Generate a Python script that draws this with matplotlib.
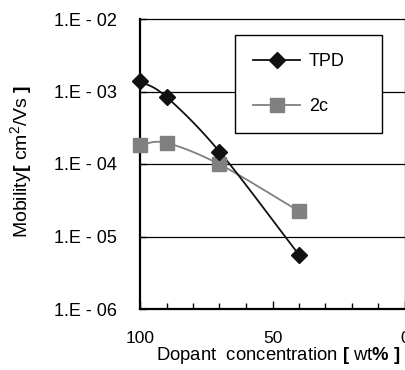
import numpy as np
import matplotlib
matplotlib.use("Agg")
import matplotlib.pyplot as plt
from matplotlib.lines import Line2D
from matplotlib.ticker import FixedLocator, MultipleLocator

plt.rcParams['font.family'] = ['Liberation Sans', 'DejaVu Sans']
plt.rcParams['mathtext.fontset'] = 'custom'
plt.rcParams['mathtext.rm'] = 'Liberation Sans'
plt.rcParams['mathtext.it'] = 'Liberation Sans'
plt.rcParams['mathtext.bf'] = 'Liberation Sans:bold'

# data
tpd_x = [100, 90, 70, 40]
tpd_y = [1.4e-3, 8.4e-4, 1.48e-4, 5.6e-6]
c2_x = [100, 90, 70, 40]
c2_y = [1.85e-4, 1.95e-4, 9.9e-5, 2.24e-5]
ytick_vals = [1e-6, 1e-5, 1e-4, 1e-3, 1e-2]
ytick_labels = ["1.E - 06", "1.E - 05", "1.E - 04", "1.E - 03", "1.E - 02"]
xtick_vals = [100, 50, 0]
xtick_labels = ["100", "50", "0"]


def smooth(xs, ys, n=30):
    # Catmull-Rom curve through the points in (x, log10 y) space
    x = np.asarray(xs, float)
    y = np.log10(np.asarray(ys, float))
    px = np.concatenate([[2 * x[0] - x[1]], x, [2 * x[-1] - x[-2]]])
    py = np.concatenate([[2 * y[0] - y[1]], y, [2 * y[-1] - y[-2]]])
    ox, oy = [], []
    t = np.linspace(0, 1, n)
    for i in range(1, len(px) - 2):
        for P, out in ((px, ox), (py, oy)):
            p0, p1, p2, p3 = P[i - 1], P[i], P[i + 1], P[i + 2]
            out.extend(0.5 * ((2 * p1) + (-p0 + p2) * t + (2 * p0 - 5 * p1 + 4 * p2 - p3) * t ** 2
                              + (-p0 + 3 * p1 - 3 * p2 + p3) * t ** 3))
    return np.array(ox), 10 ** np.array(oy)


W, H = 406, 370
fig = plt.figure(figsize=(W / 100, H / 100), dpi=100)
ax = fig.add_axes([140 / W, 1 - 309 / H, 265 / W, 290 / H])
ax.set_yscale('log')
ax.set_ylim(1e-6, 1e-2)
ax.set_xlim(100, 0)

for yv in [1e-5, 1e-4, 1e-3]:
    ax.axhline(yv, color='black', lw=0.9, zorder=1)

black = '#111111'
gray = '#808080'
sx, sy = smooth(tpd_x, tpd_y)
ax.plot(sx, sy, color=black, lw=1.3, zorder=3, clip_on=False)
ax.plot(tpd_x, tpd_y, ls='none', marker='D', ms=8, color=black, zorder=4, clip_on=False)
sx, sy = smooth(c2_x, c2_y)
ax.plot(sx, sy, color=gray, lw=1.3, zorder=2, clip_on=False)
ax.plot(c2_x, c2_y, ls='none', marker='s', ms=10, color=gray, zorder=3, clip_on=False)

ax.set_yticks(ytick_vals)
ax.set_yticklabels(ytick_labels)
ax.yaxis.set_minor_locator(FixedLocator([]))
ax.set_xticks(xtick_vals)
ax.set_xticklabels(xtick_labels)
ax.xaxis.set_minor_locator(MultipleLocator(10))
ax.tick_params(axis='y', which='major', direction='in', length=4, width=1, pad=16.5, labelsize=13)
ax.tick_params(axis='x', which='major', direction='in', length=6, width=1, pad=16, labelsize=12.5)
ax.tick_params(axis='x', which='minor', direction='in', length=4, width=1)

for s in ['left', 'bottom']:
    ax.spines[s].set_linewidth(1.6)
for s in ['top', 'right']:
    ax.spines[s].set_linewidth(0.9)

fig.text(278.5 / W, 1 - 360 / H, r"Dopant  concentration $\mathbf{[}$ wt$\mathbf{\%}$ $\mathbf{]}$",
         fontsize=13.3, ha='center', va='baseline')
fig.text(21 / W, 1 - 161 / H, r"Mobility$\mathbf{[}$ cm$^2$/Vs $\mathbf{]}$",
         fontsize=14, ha='center', va='center', rotation=90, rotation_mode='anchor')

handles = [Line2D([], [], color=black, lw=1.3, marker='D', ms=8),
           Line2D([], [], color=gray, lw=1.3, marker='s', ms=10)]
x0 = (235 - 140) / 265
x1 = (382 - 140) / 265
y1 = (309 - 35) / 290
y0 = (309 - 125) / 290
leg = ax.legend(handles, ["TPD", "2c"], loc='upper left',
                bbox_to_anchor=(x0, y0, x1 - x0, y1 - y0), mode='expand',
                borderaxespad=0, fancybox=False, framealpha=1, edgecolor='black',
                handlelength=2.6, labelspacing=1.55, borderpad=1.0, handletextpad=0.5,
                fontsize=13)
leg.get_frame().set_linewidth(1.0)
leg.set_zorder(5)

fig.savefig("out.png", dpi=100)
